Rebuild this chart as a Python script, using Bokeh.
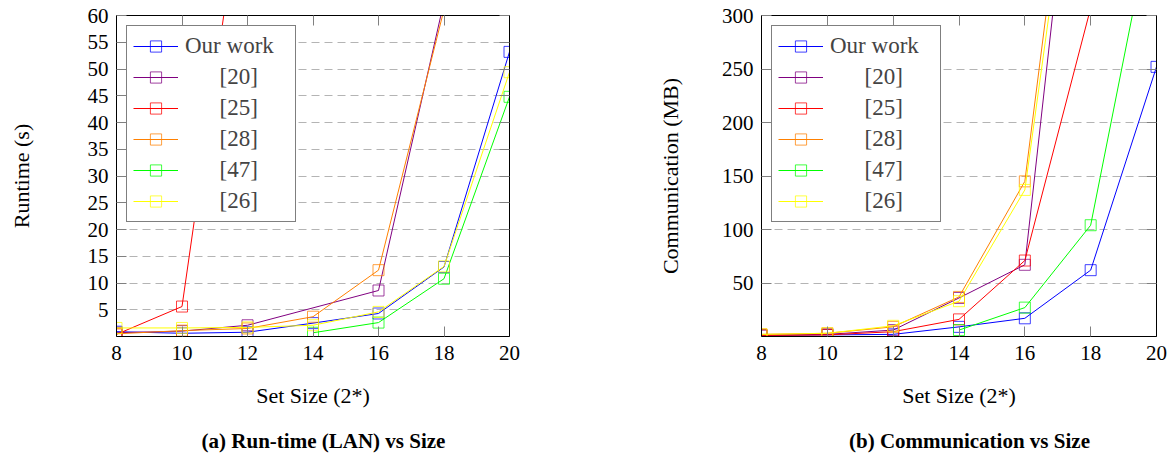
from bokeh.plotting import figure
from bokeh.layouts import row
from bokeh.models import Range1d, FixedTicker, LinearAxis, Legend, LegendItem
from bokeh.embed import file_html
from bokeh.resources import INLINE

FONT = "'Liberation Serif', serif"

# ---------------- data ----------------
sizes = [8, 10, 12, 14, 16, 18, 20]
series_labels = ["Our work", "[20]", "[25]", "[28]", "[47]", "[26]"]
series_colors = ["#0000ff", "#800080", "#ff0000", "#ff8000", "#00ff00", "#ffff00"]

# (a) Run-time (LAN) in seconds
rt_our_x = [8, 10, 12, 14, 16, 18, 20]
rt_our_y = [0.9, 0.6, 0.8, 2.5, 4.3, 13.0, 53.2]
rt_20_x = [8, 10, 12, 16, 18]
rt_20_y = [0.7, 1.0, 2.1, 8.6, 62.6]
rt_25_x = [8, 10, 12]
rt_25_y = [0.4, 5.6, 91.0]
rt_28_x = [8, 10, 12, 14, 16, 18]
rt_28_y = [0.5, 1.1, 1.5, 3.7, 12.4, 61.1]
rt_47_x = [14, 16, 18, 20]
rt_47_y = [0.7, 2.6, 10.8, 44.8]
rt_26_x = [8, 10, 12, 14, 16, 18, 20]
rt_26_y = [1.6, 1.6, 1.7, 2.1, 4.6, 13.1, 49.4]
rt_ticks = [5, 10, 15, 20, 25, 30, 35, 40, 45, 50, 55, 60]

# (b) Communication in MB
cm_our_x = [8, 10, 12, 14, 16, 18, 20]
cm_our_y = [1.0, 1.5, 2.0, 9.0, 17.0, 62.0, 252.0]
cm_20_x = [8, 10, 12, 14, 16, 18]
cm_20_y = [1.5, 2.0, 6.0, 36.0, 67.0, 620.0]
cm_25_x = [8, 10, 12, 14, 16, 18]
cm_25_y = [1.0, 1.5, 4.5, 16.0, 71.0, 307.0]
cm_28_x = [8, 10, 12, 14, 16, 18]
cm_28_y = [2.0, 3.0, 9.0, 37.0, 145.0, 629.0]
cm_47_x = [14, 16, 18, 20]
cm_47_y = [6.0, 27.0, 104.0, 414.0]
cm_26_x = [8, 10, 12, 14, 16, 18]
cm_26_y = [2.0, 3.0, 10.0, 33.0, 137.0, 583.0]
cm_ticks = [50, 100, 150, 200, 250, 300]

rt_series = [(rt_our_x, rt_our_y), (rt_20_x, rt_20_y), (rt_25_x, rt_25_y),
             (rt_28_x, rt_28_y), (rt_47_x, rt_47_y), (rt_26_x, rt_26_y)]
cm_series = [(cm_our_x, cm_our_y), (cm_20_x, cm_20_y), (cm_25_x, cm_25_y),
             (cm_28_x, cm_28_y), (cm_47_x, cm_47_y), (cm_26_x, cm_26_y)]


def style_axis(ax, show_labels=True):
    ax.axis_line_color = "black"
    ax.axis_line_width = 1
    ax.major_tick_in = 10
    ax.major_tick_out = 0
    ax.minor_tick_in = 0
    ax.minor_tick_out = 0
    ax.major_tick_line_color = "#808080"
    ax.major_label_text_font = FONT
    ax.major_label_text_color = "black"
    ax.axis_label_text_font = FONT
    ax.axis_label_text_font_style = "normal"
    ax.axis_label_text_color = "black"
    ax.axis_label_text_font_size = "22px"
    if show_labels:
        ax.major_label_text_font_size = "21px"
    else:
        ax.major_label_text_font_size = "1px"
        ax.major_label_text_color = None
        ax.major_label_standoff = 0
        ax.axis_label_standoff = 0


def make_fig(series, ymax, yticks, ylabel, caption, width, b_left, b_right,
             ylab_standoff):
    p = figure(width=width, height=455, output_backend="svg", toolbar_location=None,
               x_range=Range1d(8, 20), y_range=Range1d(0, ymax),
               min_border_left=b_left, min_border_right=b_right,
               min_border_top=15, min_border_bottom=117, title=None)
    p.background_fill_color = "white"
    p.border_fill_color = "white"
    p.outline_line_color = "black"
    p.outline_line_width = 1

    xt = FixedTicker(ticks=sizes)
    yt = FixedTicker(ticks=yticks)
    p.xaxis.ticker = xt
    p.yaxis.ticker = yt
    for ax in p.xaxis:
        style_axis(ax)
        ax.major_label_standoff = 9
        ax.axis_label = "Set Size (2*)"
        ax.axis_label_standoff = 20
    for ax in p.yaxis:
        style_axis(ax)
        ax.major_label_standoff = 8
        ax.axis_label = ylabel
        ax.axis_label_standoff = ylab_standoff

    top = LinearAxis(ticker=FixedTicker(ticks=sizes))
    style_axis(top, False)
    p.add_layout(top, "above")
    right = LinearAxis(ticker=FixedTicker(ticks=yticks))
    style_axis(right, False)
    p.add_layout(right, "right")

    # caption, drawn as the label of an empty axis underneath
    cap = LinearAxis(ticker=FixedTicker(ticks=[]))
    style_axis(cap, False)
    cap.axis_line_color = None
    cap.major_tick_in = 0
    cap.axis_label = "\u00a0" * 4 + caption
    cap.axis_label_text_font_size = "21px"
    cap.axis_label_text_font_style = "bold"
    cap.axis_label_standoff = 18
    p.add_layout(cap, "below")

    p.xgrid.visible = False
    p.ygrid.ticker = yt
    p.ygrid.grid_line_color = "#b4b4b4"
    p.ygrid.grid_line_dash = "8 5"
    p.ygrid.grid_line_width = 1

    items = []
    for (xs, ys), lbl, col in zip(series, series_labels, series_colors):
        r1 = p.line(xs, ys, line_color=col, line_width=1)
        r2 = p.scatter(xs, ys, marker="square", size=11, fill_alpha=0,
                       line_color=col, line_alpha=0.75, line_width=1)
        text = lbl if lbl == "Our work" else "\u00a0" * 6 + lbl
        items.append(LegendItem(label=text, renderers=[r1, r2]))
    leg = Legend(items=items, location="top_left", margin=10, padding=6,
                 spacing=3, glyph_width=45, glyph_height=28, label_height=28,
                 label_standoff=7, label_width=104,
                 label_text_font=FONT, label_text_font_size="23px",
                 border_line_color="black", border_line_width=1,
                 background_fill_color="white", background_fill_alpha=1)
    p.add_layout(leg)
    return p


p1 = make_fig(rt_series, 60, rt_ticks, "Runtime (s)", "(a) Run-time (LAN) vs Size",
              592, 116, 83, 51)
p2 = make_fig(cm_series, 300, cm_ticks, "Communication (MB)", "(b) Communication vs Size",
              575, 169, 11, 36)

layout = row(p1, p2)
open("out.html", "w").write(file_html(layout, INLINE))
